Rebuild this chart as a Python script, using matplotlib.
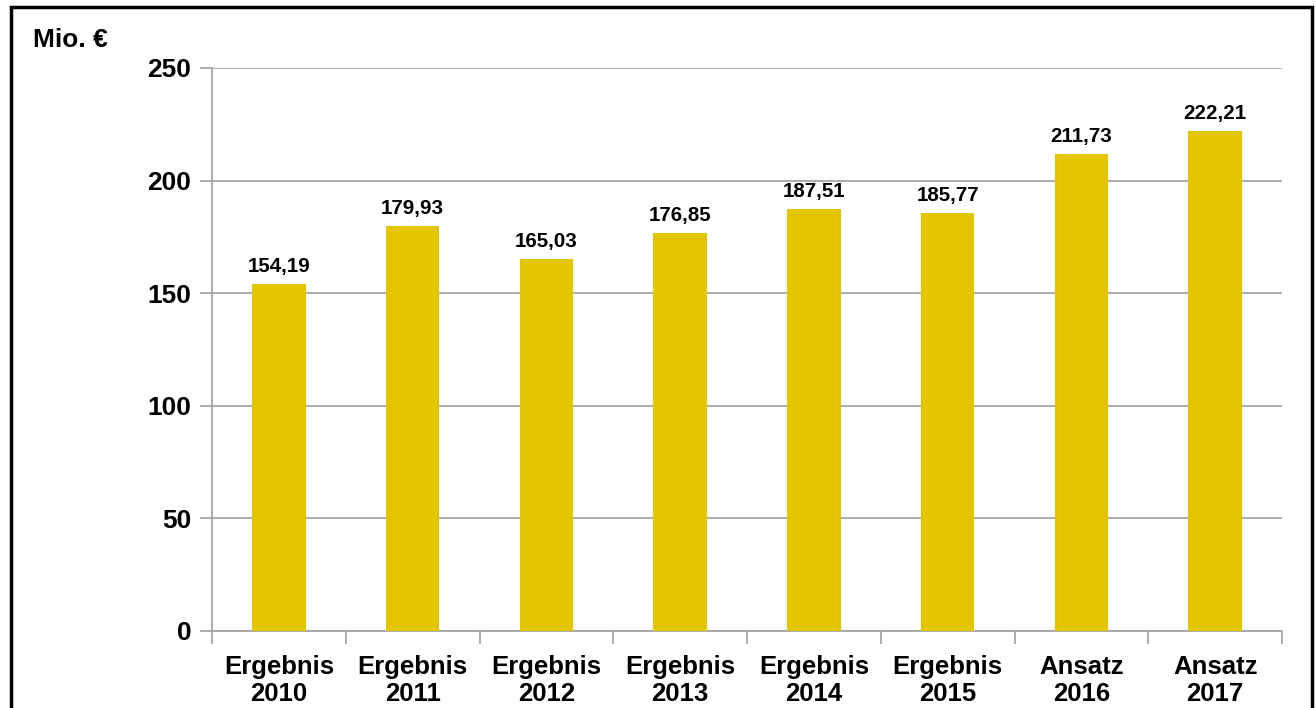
import matplotlib.pyplot as plt
import matplotlib.patches as patches
import numpy as np

# chart data
categories = ["Ergebnis\n2010", "Ergebnis\n2011", "Ergebnis\n2012", "Ergebnis\n2013",
              "Ergebnis\n2014", "Ergebnis\n2015", "Ansatz\n2016", "Ansatz\n2017"]
values = [154.19, 179.93, 165.03, 176.85, 187.51, 185.77, 211.73, 222.21]
y_ticks = [0, 50, 100, 150, 200, 250]

plt.rcParams['font.family'] = ['Liberation Sans', 'DejaVu Sans']
plt.rcParams['font.weight'] = 'bold'

fig = plt.figure(figsize=(13.16, 7.08), dpi=100, facecolor="white")
ax = fig.add_axes([0.1611, 0.1088, 0.8131, 0.7952])

x = np.arange(len(categories))
ax.bar(x, values, width=0.40, color="#E3C500", zorder=3)

for xi, v in zip(x, values):
    label = f"{v:.2f}".replace(".", ",")
    ax.text(xi, v + 3.5, label, ha="center", va="bottom", fontsize=14.8, fontweight="bold", zorder=4)

ax.set_xlim(-0.5, len(categories) - 0.5)
ax.set_ylim(0, 250)
ax.set_yticks(y_ticks)
ax.set_yticklabels([str(t) for t in y_ticks], fontsize=19, fontweight="bold")
ax.yaxis.grid(True, color="#A6A6A6", linewidth=1.3, zorder=0)

# category labels centered, ticks at category boundaries
ax.set_xticks(x)
ax.set_xticklabels(categories, fontsize=18.5, fontweight="bold", linespacing=1.2)
ax.tick_params(axis="x", which="major", length=0, pad=17)
ax.set_xticks(np.arange(-0.5, len(categories)), minor=True)
ax.tick_params(axis="x", which="minor", length=9, width=1.3, color="#A6A6A6")
ax.tick_params(axis="y", length=9, width=1.3, color="#A6A6A6", pad=6)

for side in ["top", "right"]:
    ax.spines[side].set_visible(False)
for side in ["left", "bottom"]:
    ax.spines[side].set_color("#A6A6A6")
    ax.spines[side].set_linewidth(1.3)

fig.text(33 / 1316, 1 - 40 / 708, "Mio. €", fontsize=19, fontweight="bold", ha="left", va="center")

# outer frame
frame = patches.Rectangle((11 / 1316, -0.05), (1312 - 11) / 1316, 1.05 - 7 / 708,
                          transform=fig.transFigure, fill=False, edgecolor="black",
                          linewidth=2.5, clip_on=False)
fig.patches.append(frame)

fig.savefig("out.png", dpi=100, facecolor="white")
